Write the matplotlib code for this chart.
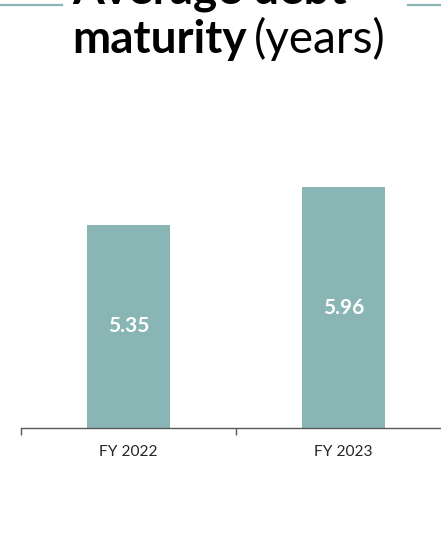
import matplotlib.pyplot as plt
from matplotlib.lines import Line2D

# Average debt maturity by fiscal year
categories = ['FY 2022', 'FY 2023']
maturity_years = [5.35, 5.96]

bar_color = '#8AB5B5'
font = 'Lato'

fig = plt.figure(figsize=(4.41, 5.37), dpi=100)
W, H = 441, 537

# axes spans three category slots wide, right part runs off the canvas
ax = fig.add_axes([21 / W, (H - 428) / H, 430 / W, (428 - 150) / H])
x = range(len(categories))
bars = ax.bar(x, maturity_years, width=0.39, color=bar_color, zorder=2)
ax.set_xlim(-0.5, 1.5)
ax.set_ylim(2.06, 6.56)

for rect, v in zip(bars, maturity_years):
    ymid = (ax.get_ylim()[0] + v) / 2
    ax.text(rect.get_x() + rect.get_width() / 2, ymid, f'{v:.2f}',
            ha='center', va='center', color='white', fontsize=15,
            fontweight='bold', family=font)

for s in ['left', 'right', 'top']:
    ax.spines[s].set_visible(False)
ax.spines['bottom'].set_color('#595959')
ax.spines['bottom'].set_linewidth(1.0)
ax.set_yticks([])
ax.set_xticks(list(x))
ax.set_xticklabels(categories, family=font, fontsize=11.2, color='#262626')
ax.tick_params(axis='x', which='major', length=0, pad=12)
ax.set_xticks([-0.5, 0.5, 1.5], minor=True)
ax.tick_params(axis='x', which='minor', length=5, color='#595959', width=1)

# heading, first line partly above the top edge
tsize = 33
fig.text(72 / W, 1 - 4 / H, 'Average debt', ha='left', va='baseline',
         fontsize=tsize, fontweight='bold', family=font, color='black')
t1 = fig.text(72 / W, 1 - 53 / H, 'maturity', ha='left', va='baseline',
              fontsize=tsize, fontweight='bold', family=font, color='black')
fig.canvas.draw()
x_end = t1.get_window_extent().x1
fig.text((x_end + 7) / W, 1 - 53 / H, '(years)', ha='left', va='baseline',
         fontsize=tsize, family=font, color='black')

# teal rules either side of the heading
fig.add_artist(Line2D([0, 62 / W], [1 - 5 / H] * 2, color=bar_color, lw=1.6))
fig.add_artist(Line2D([408 / W, 1], [1 - 5 / H] * 2, color=bar_color, lw=1.6))

fig.savefig('out.png', dpi=100)
